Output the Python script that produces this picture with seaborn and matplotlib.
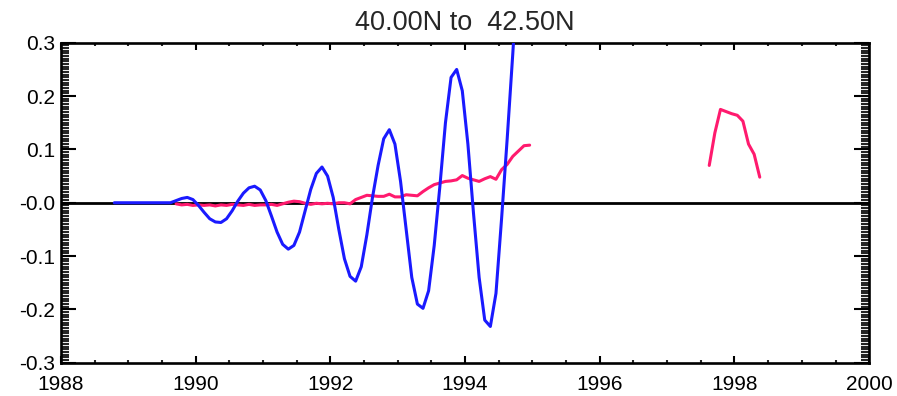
import numpy as np
import pandas as pd
import matplotlib
matplotlib.use("Agg")
import matplotlib.pyplot as plt
import seaborn as sns
from matplotlib.ticker import MultipleLocator, FixedLocator, FixedFormatter

# ---------------- data (monthly, mid-month times) ----------------
blue_start = 1988 + 9.5 / 12          # Oct 1988
blue_vals = [
    0, 0, 0,                                                       # 1988 Oct-Dec
    0, 0, 0, 0, 0, 0, 0, 0, 0.004, 0.008, 0.010, 0.006,            # 1989
    -0.005, -0.018, -0.030, -0.036, -0.037, -0.030, -0.015, 0.003, 0.018, 0.028, 0.031, 0.024,   # 1990
    0.004, -0.025, -0.055, -0.078, -0.087, -0.080, -0.055, -0.015, 0.025, 0.055, 0.067, 0.050,   # 1991
    0.010, -0.050, -0.105, -0.138, -0.147, -0.120, -0.060, 0.010, 0.070, 0.120, 0.137, 0.110,   # 1992
    0.040, -0.050, -0.140, -0.190, -0.198, -0.165, -0.080, 0.030, 0.150, 0.235, 0.250, 0.210,   # 1993
    0.110, -0.020, -0.140, -0.220, -0.232, -0.170, -0.030, 0.120, 0.280, 0.450,                 # 1994
]

pink1_start = 1989 + 8.5 / 12         # Sep 1989
pink1_vals = [
    -0.002, -0.004, -0.003, -0.005,                                                              # 1989
    -0.004, -0.005, -0.004, -0.006, -0.004, -0.005, -0.003, -0.004, -0.005, -0.003, -0.005, -0.004,  # 1990
    -0.004, -0.003, -0.005, -0.002, 0.001, 0.003, 0.002, -0.001, -0.003, -0.001, -0.002, -0.001,     # 1991
    -0.002, 0.000, 0.000, -0.002, 0.006, 0.010, 0.014, 0.013, 0.012, 0.012, 0.016, 0.011,           # 1992
    0.011, 0.015, 0.014, 0.013, 0.021, 0.028, 0.034, 0.037, 0.040, 0.041, 0.043, 0.051,             # 1993
    0.046, 0.043, 0.040, 0.045, 0.049, 0.044, 0.062, 0.072, 0.087, 0.097, 0.107, 0.108,             # 1994
]

pink2_start = 1997 + 7.5 / 12         # Aug 1997
pink2_vals = [0.070, 0.131, 0.175, 0.171, 0.167, 0.164, 0.153, 0.110, 0.091, 0.048]

x_major = [1988, 1990, 1992, 1994, 1996, 1998, 2000]
x_labels = ["1988", "1990", "1992", "1994", "1996", "1998", "2000"]
y_major = [-0.3, -0.2, -0.1, 0.0, 0.1, 0.2, 0.3]
y_labels = ["-0.3", "-0.2", "-0.1", "-0.0", "0.1", "0.2", "0.3"]
title = "40.00N to  42.50N"


def frame(start, vals):
    t = start + np.arange(len(vals)) / 12.0
    return pd.DataFrame({"t": t, "v": vals})


df_blue = frame(blue_start, blue_vals)
df_p1 = frame(pink1_start, pink1_vals)
df_p2 = frame(pink2_start, pink2_vals)

sns.set_theme(style="white")
plt.rcParams["font.family"] = ["Liberation Sans", "DejaVu Sans"]

fig = plt.figure(figsize=(8.97, 3.96), dpi=100)
ax = fig.add_axes([0.068, 0.084, 0.901, 0.808])

BLUE = "#1a1aff"
PINK = "#ff1a6e"

ax.axhline(0, color="black", lw=2.0, zorder=1)
sns.lineplot(data=df_p1, x="t", y="v", ax=ax, color=PINK, lw=2.2, zorder=2)
sns.lineplot(data=df_p2, x="t", y="v", ax=ax, color=PINK, lw=2.2, zorder=2)
sns.lineplot(data=df_blue, x="t", y="v", ax=ax, color=BLUE, lw=2.2, zorder=3)

ax.set_xlim(1988, 2000)
ax.set_ylim(-0.3, 0.3)
ax.set_xlabel("")
ax.set_ylabel("")

ax.xaxis.set_major_locator(FixedLocator(x_major))
ax.xaxis.set_major_formatter(FixedFormatter(x_labels))
ax.xaxis.set_minor_locator(MultipleLocator(0.5))
ax.yaxis.set_major_locator(FixedLocator(y_major))
ax.yaxis.set_major_formatter(FixedFormatter(y_labels))
ax.yaxis.set_minor_locator(MultipleLocator(0.005))

for s in ax.spines.values():
    s.set_color("black")
    s.set_linewidth(1.9)

ax.tick_params(axis="x", which="major", direction="in", length=5, width=1.5,
               top=True, bottom=True, labelsize=15, pad=9, colors="black")
ax.tick_params(axis="x", which="minor", direction="in", length=2.5, width=1.5,
               top=True, bottom=True)
ax.tick_params(axis="y", which="major", direction="in", length=11, width=1.5,
               left=True, right=True, labelsize=15, pad=4, colors="black")
ax.tick_params(axis="y", which="minor", direction="in", length=6, width=1.5,
               left=True, right=True)

ax.set_title(title, fontsize=19.5, pad=9)

fig.savefig("out.png", dpi=100)
